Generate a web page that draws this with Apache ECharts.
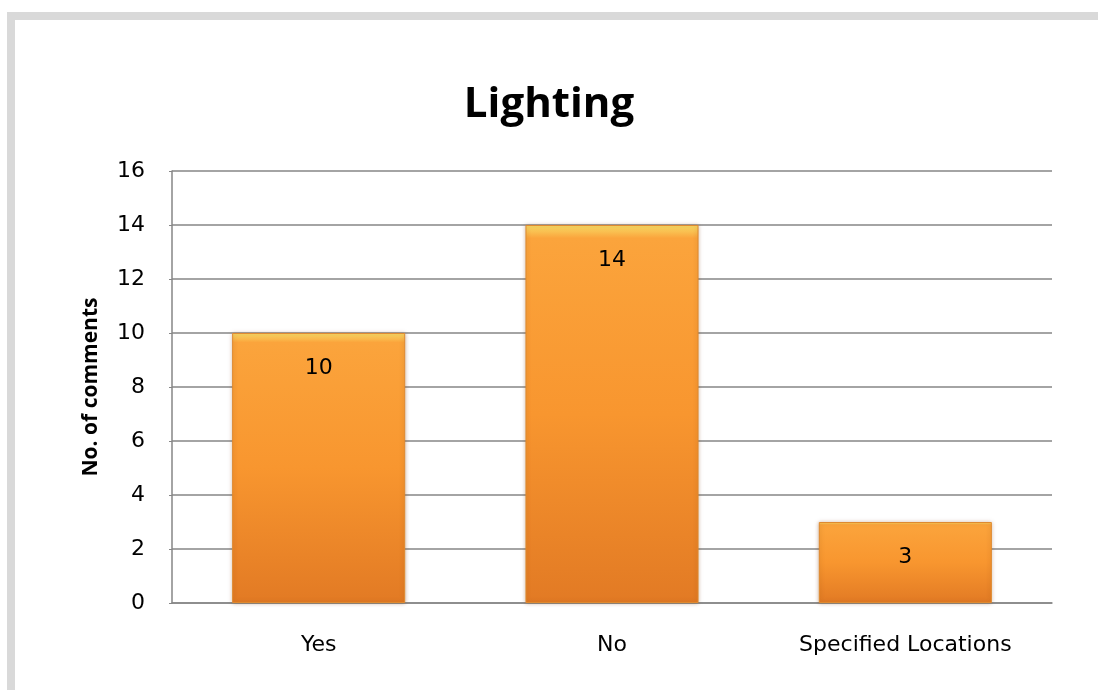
<!DOCTYPE html>
<html>
<head>
<meta charset="utf-8">
<script src="https://cdn.jsdelivr.net/npm/echarts@6/dist/echarts.min.js"></script>
<style>
  html, body { margin: 0; padding: 0; background: #fff; }
  #frame {
    position: absolute; left: 7px; top: 12px; right: 0; bottom: 0;
    border-top: 8px solid #d9d9d9; border-left: 8px solid #d9d9d9;
  }
  #main { position: absolute; left: 0; top: 0; width: 1098px; height: 690px; }
</style>
</head>
<body>
<div id="frame"></div>
<div id="main"></div>
<script>
var categories = ['Yes', 'No', 'Specified Locations'];
var comments = [10, 14, 3];
var yTicks = { min: 0, max: 16, interval: 2 };

window.onload = function () {
    var myChart = echarts.init(document.getElementById('main'));
    var font = '"Open Sans", sans-serif';
    var labelFont = '"DejaVu Sans", sans-serif';

    var option = {
        animation: false,
        title: {
            text: 'Lighting',
            left: 'center',
            top: 79,
            textStyle: { fontFamily: font, fontSize: 42, fontWeight: 'bold', color: '#000' }
        },
        grid: { left: 172, right: 46, top: 171, bottom: 87 },
        xAxis: {
            type: 'category',
            data: categories,
            axisLine: { lineStyle: { color: '#868686', width: 1.5 } },
            axisTick: { show: false },
            axisLabel: { fontFamily: labelFont, fontSize: 22, color: '#000', margin: 31 }
        },
        yAxis: {
            type: 'value',
            min: yTicks.min,
            max: yTicks.max,
            interval: yTicks.interval,
            name: 'No. of comments',
            nameLocation: 'middle',
            nameGap: 70,
            nameTextStyle: { fontFamily: font, fontSize: 21, fontWeight: 'bold', color: '#000' },
            axisLine: { show: true, lineStyle: { color: '#868686', width: 1.5 } },
            axisTick: { show: true, length: 3, lineStyle: { color: '#868686' } },
            axisLabel: { fontFamily: labelFont, fontSize: 22, color: '#000', margin: 27 },
            splitLine: { lineStyle: { color: '#868686', width: 1.5 } }
        },
        series: [{
            type: 'bar',
            data: comments,
            barWidth: '59%',
            itemStyle: {
                color: new echarts.graphic.LinearGradient(0, 0, 0, 1, [
                    { offset: 0, color: '#f8dc66' },
                    { offset: 0.035, color: '#fba43c' },
                    { offset: 0.5, color: '#f8962f' },
                    { offset: 1, color: '#e27a24' }
                ]),
                borderColor: '#df8a30',
                borderWidth: 1,
                shadowColor: 'rgba(120, 60, 0, 0.35)',
                shadowBlur: 4
            },
            label: {
                show: true,
                position: 'insideTop',
                distance: 24,
                fontFamily: labelFont,
                fontSize: 22,
                color: '#000'
            }
        }]
    };

    myChart.setOption(option);
};
</script>
</body>
</html>
